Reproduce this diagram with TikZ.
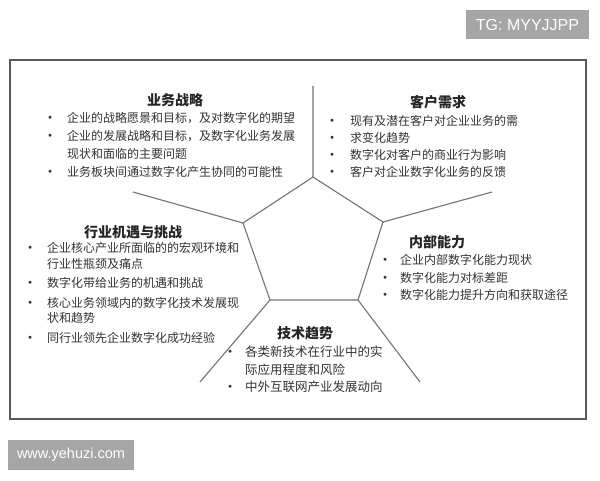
\documentclass[tikz,border=0pt]{standalone}
\usepackage{fontspec}
\setmainfont{Noto Sans CJK SC}
\newfontfamily\wmfont{Liberation Sans}
\newcommand\dotmark{\makebox[0pt]{\raisebox{2.9pt}{\scriptsize$\bullet$}}}

\begin{document}
\begin{tikzpicture}[x=1pt, y=-1pt,
  edge/.style={draw=black!55, line width=1.1pt},
  title/.style={font=\fontsize{14}{14}\selectfont\bfseries, text=black!85, inner sep=0},
  items/.style={anchor=base west, inner sep=0, text=black!80},
  wmbox/.style={fill=black!35, text=white, inner sep=0}]
  \useasboundingbox[fill=white] (0,0) rectangle (600,480);

  % frame
  \draw[draw=black!65, line width=1.5pt] (10,60) rectangle (586,419);

  % pentagon and spokes
  \coordinate (p1) at (313,177);
  \coordinate (p2) at (383,222);
  \coordinate (p3) at (358,300);
  \coordinate (p4) at (270,300);
  \coordinate (p5) at (243,223);
  \coordinate (s1) at (313,86);
  \coordinate (s2) at (492,192);
  \coordinate (s3) at (420,382);
  \coordinate (s4) at (200,382);
  \coordinate (s5) at (133,192);
  \draw[edge] (p1)--(p2)--(p3)--(p4)--(p5)--cycle;
  \draw[edge] (p1)--(s1)
              (p2)--(s2)
              (p3)--(s3)
              (p4)--(s4)
              (p5)--(s5);

  \node[title] (ywzl) at (175,100) {业务战略};
  \node[items, font=\fontsize{12}{18}\selectfont] (ywzl-list) at (50,122.6)
    {\begin{tabular}[t]{@{}l@{\hspace{17pt}}l@{}}
     \dotmark & 企业的战略愿景和目标，及对数字化的期望\\
     \dotmark & 企业的发展战略和目标，及数字化业务发展\\
              & 现状和面临的主要问题\\
     \dotmark & 业务板块间通过数字化产生协同的可能性
     \end{tabular}};

  \node[title] (khxq) at (438,102) {客户需求};
  \node[items, font=\fontsize{12}{17}\selectfont] (khxq-list) at (332,125.6)
    {\begin{tabular}[t]{@{}l@{\hspace{18pt}}l@{}}
     \dotmark & 现有及潜在客户对企业业务的需\\
     \dotmark & 求变化趋势\\
     \dotmark & 数字化对客户的商业行为影响\\
     \dotmark & 客户对企业数字化业务的反馈
     \end{tabular}};

  \node[title] (hyjy) at (133,232) {行业机遇与挑战};
  \node[items, font=\fontsize{12}{15.5}\selectfont] (hyjy-list) at (30,252.6)
    {\begin{tabular}[t]{@{}l@{\hspace{17pt}}l@{}}
     \dotmark & 企业核心产业所面临的的宏观环境和\\
              & 行业性瓶颈及痛点\\[4pt]
     \dotmark & 数字化带给业务的机遇和挑战\\[4pt]
     \dotmark & 核心业务领域内的数字化技术发展现\\
              & 状和趋势\\[4pt]
     \dotmark & 同行业领先企业数字化成功经验
     \end{tabular}};

  \node[title] (nbnl) at (437,242) {内部能力};
  \node[items, font=\fontsize{12}{17.5}\selectfont] (nbnl-list) at (385,264.6)
    {\begin{tabular}[t]{@{}l@{\hspace{15pt}}l@{}}
     \dotmark & 企业内部数字化能力现状\\
     \dotmark & 数字化能力对标差距\\
     \dotmark & 数字化能力提升方向和获取途径
     \end{tabular}};

  \node[title] (jsqs) at (305,333) {技术趋势};
  \node[items, font=\fontsize{12.5}{17.5}\selectfont] (jsqs-list) at (230,356.6)
    {\begin{tabular}[t]{@{}l@{\hspace{15pt}}l@{}}
     \dotmark & 各类新技术在行业中的实\\
              & 际应用程度和风险\\
     \dotmark & 中外互联网产业发展动向
     \end{tabular}};

  % watermarks
  \node[wmbox, minimum width=123pt, minimum height=29pt,
        font=\wmfont\fontsize{16}{16}\selectfont] (tg) at (527.5,24.5) {TG: MYYJJPP};
  \node[wmbox, minimum width=126pt, minimum height=30pt,
        font=\wmfont\fontsize{14.5}{14.5}\selectfont] (site) at (71,455) {www.yehuzi.com};
\end{tikzpicture}
\end{document}
